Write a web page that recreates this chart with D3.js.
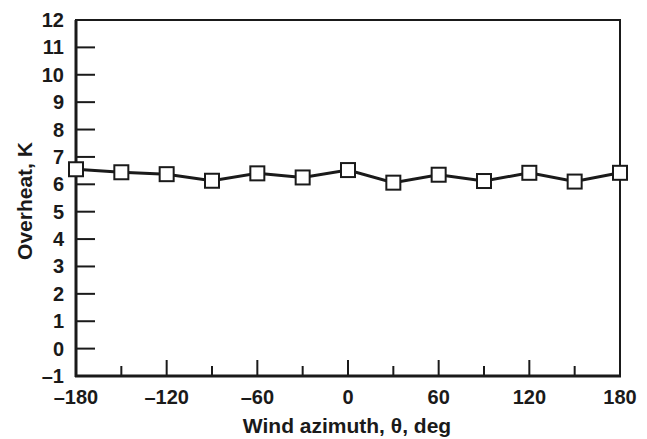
<!DOCTYPE html>
<html>
<head>
<meta charset="utf-8">
<script src="https://d3js.org/d3.v7.min.js"></script>
<style>
  body { margin: 0; background: #fff; }
  text { font-family: "Liberation Sans", Arial, sans-serif; font-weight: bold; fill: #1a1a1a; }
</style>
</head>
<body>
<svg id="chart" width="647" height="439"></svg>
<script>
// data
var azimuth = [-180, -150, -120, -90, -60, -30, 0, 30, 60, 90, 120, 150, 180];
var overheat = [6.55, 6.44, 6.37, 6.13, 6.40, 6.25, 6.52, 6.06, 6.35, 6.12, 6.42, 6.10, 6.42];
var xMajor = [-180, -120, -60, 0, 60, 120, 180];
var xMinor = [-150, -90, -30, 30, 90, 150];
var yTicks = [-1, 0, 1, 2, 3, 4, 5, 6, 7, 8, 9, 10, 11, 12];

var svg = d3.select("#chart");
var mLeft = 76, mRight = 620, mTop = 20, mBottom = 376;
var ink = "#1a1a1a";

var x = d3.scaleLinear().domain([-180, 180]).range([mLeft, mRight]);
var y = d3.scaleLinear().domain([-1, 12]).range([mBottom, mTop]);

function fmt(d) { return d < 0 ? "\u2013" + Math.abs(d) : "" + d; }

// inward ticks
svg.selectAll(".ytick")
    .data(yTicks.filter(function (d) { return d > -1 && d < 12; }))
    .enter().append("line")
    .attr("x1", mLeft).attr("x2", mLeft + 19)
    .attr("y1", function (d) { return y(d); })
    .attr("y2", function (d) { return y(d); })
    .attr("stroke", ink).attr("stroke-width", 2);

svg.selectAll(".xmaj")
    .data(xMajor.filter(function (d) { return d > -180 && d < 180; }))
    .enter().append("line")
    .attr("x1", function (d) { return x(d); })
    .attr("x2", function (d) { return x(d); })
    .attr("y1", mBottom).attr("y2", mBottom - 16)
    .attr("stroke", ink).attr("stroke-width", 2);

svg.selectAll(".xmin")
    .data(xMinor)
    .enter().append("line")
    .attr("x1", function (d) { return x(d); })
    .attr("x2", function (d) { return x(d); })
    .attr("y1", mBottom).attr("y2", mBottom - 10)
    .attr("stroke", ink).attr("stroke-width", 2);

// frame
svg.append("rect")
    .attr("x", mLeft).attr("y", mTop)
    .attr("width", mRight - mLeft).attr("height", mBottom - mTop)
    .attr("fill", "none").attr("stroke", ink).attr("stroke-width", 2);
svg.append("line")
    .attr("x1", mLeft).attr("x2", mLeft).attr("y1", mTop).attr("y2", mBottom + 1)
    .attr("stroke", ink).attr("stroke-width", 3);
svg.append("line")
    .attr("x1", mLeft - 1).attr("x2", mRight + 1).attr("y1", mBottom).attr("y2", mBottom)
    .attr("stroke", ink).attr("stroke-width", 3);

// tick labels
svg.selectAll(".ylab")
    .data(yTicks)
    .enter().append("text")
    .attr("x", 64)
    .attr("y", function (d) { return y(d) + 7; })
    .attr("text-anchor", "end")
    .style("font-size", "20px")
    .text(fmt);

svg.selectAll(".xlab")
    .data(xMajor)
    .enter().append("text")
    .attr("x", function (d) { return x(d); })
    .attr("y", 404)
    .attr("text-anchor", "middle")
    .style("font-size", "20px")
    .text(fmt);

// axis titles
svg.append("text")
    .attr("x", 347).attr("y", 433)
    .attr("text-anchor", "middle")
    .style("font-size", "21px")
    .text("Wind azimuth, \u03b8, deg");

svg.append("text")
    .attr("transform", "translate(32,201) rotate(-90)")
    .attr("text-anchor", "middle")
    .style("font-size", "21px")
    .text("Overheat, K");

// series
var line = d3.line()
    .x(function (d, i) { return x(azimuth[i]); })
    .y(function (d) { return y(d); });

svg.append("path")
    .datum(overheat)
    .attr("d", line)
    .attr("fill", "none")
    .attr("stroke", ink)
    .attr("stroke-width", 3);

svg.selectAll(".mark")
    .data(overheat)
    .enter().append("rect")
    .attr("x", function (d, i) { return x(azimuth[i]) - 7; })
    .attr("y", function (d) { return y(d) - 7; })
    .attr("width", 14).attr("height", 14)
    .attr("fill", "#fff")
    .attr("stroke", ink)
    .attr("stroke-width", 2);
</script>
</body>
</html>
